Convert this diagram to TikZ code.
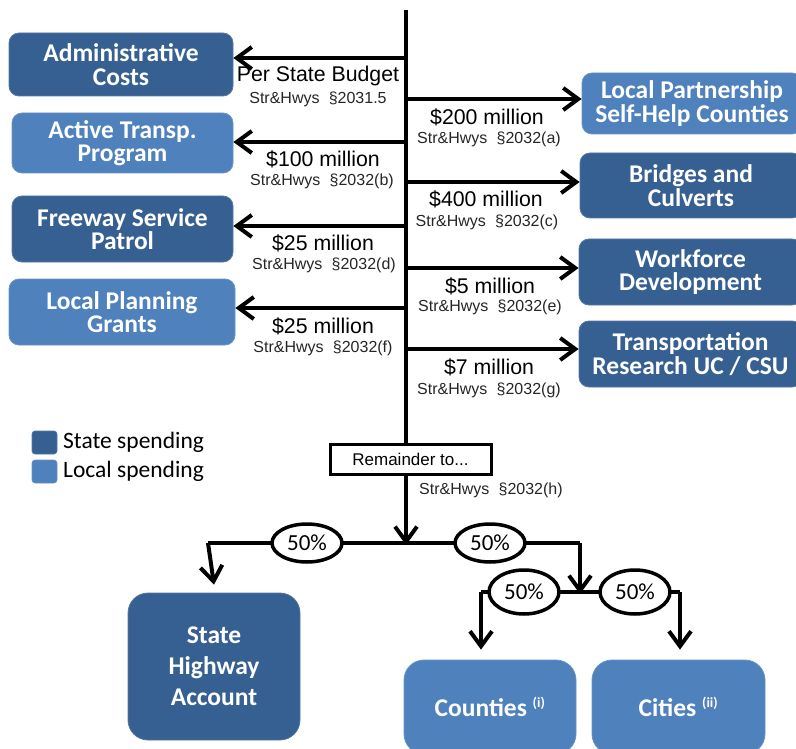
\documentclass[tikz,border=0pt]{standalone}
\usepackage{fontspec}
\setmainfont{Liberation Sans}
\newfontfamily\calfont{Carlito}
\usetikzlibrary{arrows.meta,shapes.geometric}
\definecolor{statec}{RGB}{55,96,146}
\definecolor{localc}{RGB}{79,129,189}
\tikzset{
  box/.style={rounded corners=10pt, inner sep=0pt, align=center, text=white,
    font=\calfont\bfseries\fontsize{25.5}{23.5}\selectfont, draw=#1!85!white, line width=0.8pt, fill=#1},
  bigbox/.style={box=#1, rounded corners=20pt, font=\calfont\bfseries\fontsize{25.5}{31}\selectfont},
  arr/.style={line width=4pt, -{Straight Barb[length=15pt,width=22pt,line width=4pt]}},
  ln/.style={line width=4pt},
  amt/.style={font=\fontsize{21.3}{22}\selectfont, inner sep=0pt},
  ref/.style={font=\fontsize{16}{18}\selectfont, inner sep=0pt, text=black!85},
  pct/.style={ellipse, draw, line width=3.5pt, fill=white, inner sep=0pt,
    font=\calfont\fontsize{23}{23}\selectfont},
  legsq/.style={rounded corners=3pt, fill=#1, draw=#1!85!white, line width=0.6pt},
  legtxt/.style={anchor=west, inner sep=0pt, font=\calfont\fontsize{23.5}{23.5}\selectfont}
}
\begin{document}
\begin{tikzpicture}[x=1pt,y=-1pt]
\clip (0,0) rectangle (796,749);
\fill[white] (0,0) rectangle (796,749);
% boxes
\node[box=statec, minimum width=224pt, minimum height=63pt] (admin) at (121,64.5) {Administrative\\Costs};
\node[box=localc, minimum width=221pt, minimum height=60pt] (active) at (122.5,143) {Active Transp.\\Program};
\node[box=statec, minimum width=221pt, minimum height=66pt] (fsp) at (122.5,229) {Freeway Service\\Patrol};
\node[box=localc, minimum width=226pt, minimum height=66pt] (lpg) at (122,312) {Local Planning\\Grants};
\node[box=localc, minimum width=220pt, minimum height=61pt] (lp) at (692,103.5) {Local Partnership\\Self-Help Counties};
\node[box=statec, minimum width=222pt, minimum height=65pt] (bc) at (691,185.5) {Bridges and\\Culverts};
\node[box=statec, minimum width=223pt, minimum height=66pt] (wd) at (690.5,272) {Workforce\\Development};
\node[box=statec, minimum width=223pt, minimum height=66pt] (tr) at (690.5,354) {Transportation\\Research UC / CSU};
\node[bigbox=statec, minimum width=172pt, minimum height=147pt] (sha) at (214,666.5) {State\\Highway\\Account};
\node[bigbox=localc, minimum width=172pt, minimum height=94pt] (cnty) at (490,707) {Counties \textsuperscript{\fontsize{14}{14}\selectfont(i)}};
\node[bigbox=localc, minimum width=173pt, minimum height=94pt] (city) at (678.5,707) {Cities \textsuperscript{\fontsize{14}{14}\selectfont(ii)}};
% main trunk coordinates
\coordinate (top) at (406,10);
\coordinate (ja) at (406,58);
\coordinate (jb) at (406,142);
\coordinate (jd) at (406,226);
\coordinate (jf) at (406,308);
\coordinate (ka) at (406,99);
\coordinate (kc) at (406,182);
\coordinate (ke) at (406,268);
\coordinate (kg) at (406,349);
\coordinate (j1) at (406,543);
\coordinate (l1) at (208,543);
\coordinate (r1) at (580,543);
\coordinate (j2) at (580,592);
\coordinate (l2) at (481,592);
\coordinate (r2) at (680,592);
% trunk
\draw[arr] (top) -- ([yshift=-2pt]j1);
% branches left
\draw[arr] (ja) -- (ja -| admin.east);
\draw[arr] (jb) -- (jb -| active.east);
\draw[arr] (jd) -- (jd -| fsp.east);
\draw[arr] (jf) -- (jf -| lpg.east);
% branches right
\draw[arr] (ka) -- (ka -| lp.west);
\draw[arr] (kc) -- (kc -| bc.west);
\draw[arr] (ke) -- (ke -| wd.west);
\draw[arr] (kg) -- (kg -| tr.west);
% remainder box
\node[draw, line width=3pt, fill=white, minimum width=161pt, minimum height=30pt, inner sep=0pt,
  font=\fontsize{17}{17}\selectfont] (rem) at (410.5,459) {Remainder to...};
% lower split
\draw[ln] (l1) -- (r1);
\draw[arr] (l1) -- ([yshift=8pt]sha.north);
\draw[arr] (r1) -- ([yshift=-2pt]j2);
\draw[ln] (l2) -- (r2);
\draw[arr] (l2) -- ([yshift=10pt]l2 |- cnty.north);
\draw[arr] (r2) -- ([yshift=10pt]r2 |- city.north);
\node[pct, minimum width=70pt, minimum height=38pt] (e1) at (307,543) {50\%};
\node[pct, minimum width=70pt, minimum height=38pt] (e2) at (490,543) {50\%};
\node[pct, minimum width=70pt, minimum height=44pt] (e3) at (524,592) {50\%};
\node[pct, minimum width=70pt, minimum height=44pt] (e4) at (635,592) {50\%};
% labels
\node[amt] (la) at (318,76) {Per State Budget};
\node[ref] (ra) at (318,99) {Str\&Hwys\hspace{0.3em} §2031.5};
\node[amt] (lb) at (323,159) {\$100 million};
\node[ref] (rb) at (322,181) {Str\&Hwys\hspace{0.3em} §2032(b)};
\node[amt] (ld) at (323,243) {\$25 million};
\node[ref] (rd) at (324,265) {Str\&Hwys\hspace{0.3em} §2032(d)};
\node[amt] (lf) at (323,326) {\$25 million};
\node[ref] (rf) at (323,348) {Str\&Hwys\hspace{0.3em} §2032(f)};
\node[amt] (l2a) at (487,117) {\$200 million};
\node[ref] (r2a) at (489,139) {Str\&Hwys\hspace{0.3em} §2032(a)};
\node[amt] (l2c) at (486,199) {\$400 million};
\node[ref] (r2c) at (487,222) {Str\&Hwys\hspace{0.3em} §2032(c)};
\node[amt] (l2e) at (490,286) {\$5 million};
\node[ref] (r2e) at (490,307) {Str\&Hwys\hspace{0.3em} §2032(e)};
\node[amt] (l2g) at (489,367) {\$7 million};
\node[ref] (r2g) at (489,390) {Str\&Hwys\hspace{0.3em} §2032(g)};
\node[ref, anchor=west] (rh) at (419,490) {Str\&Hwys\hspace{0.3em} §2032(h)};
% legend
\draw[legsq=statec] (32,431) rectangle (57,454);
\draw[legsq=localc] (32,460) rectangle (57,483);
\node[legtxt] (ls) at (63,442) {State spending};
\node[legtxt] (ll) at (63,471) {Local spending};
\end{tikzpicture}
\end{document}
